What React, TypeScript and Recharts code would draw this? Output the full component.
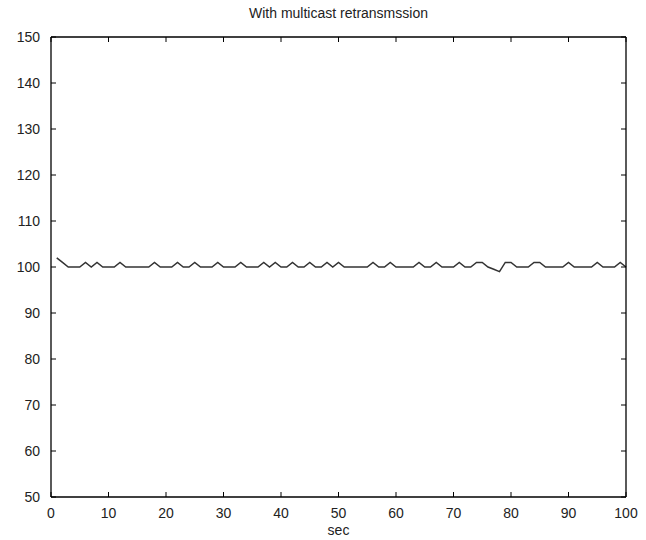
import { LineChart, Line, XAxis, YAxis } from "recharts"

// seconds 1..100
const seconds = [
  1, 2, 3, 4, 5, 6, 7, 8, 9, 10, 11, 12, 13, 14, 15, 16, 17, 18, 19, 20,
  21, 22, 23, 24, 25, 26, 27, 28, 29, 30, 31, 32, 33, 34, 35, 36, 37, 38, 39, 40,
  41, 42, 43, 44, 45, 46, 47, 48, 49, 50, 51, 52, 53, 54, 55, 56, 57, 58, 59, 60,
  61, 62, 63, 64, 65, 66, 67, 68, 69, 70, 71, 72, 73, 74, 75, 76, 77, 78, 79, 80,
  81, 82, 83, 84, 85, 86, 87, 88, 89, 90, 91, 92, 93, 94, 95, 96, 97, 98, 99, 100,
]

const values = [
  102, 101, 100, 100, 100, 101, 100, 101, 100, 100, 100, 101, 100, 100, 100, 100, 100, 101, 100, 100,
  100, 101, 100, 100, 101, 100, 100, 100, 101, 100, 100, 100, 101, 100, 100, 100, 101, 100, 101, 100,
  100, 101, 100, 100, 101, 100, 100, 101, 100, 101, 100, 100, 100, 100, 100, 101, 100, 100, 101, 100,
  100, 100, 100, 101, 100, 100, 101, 100, 100, 100, 101, 100, 100, 101, 101, 100, 99.5, 99, 101, 101,
  100, 100, 100, 101, 101, 100, 100, 100, 100, 101, 100, 100, 100, 100, 101, 100, 100, 100, 101, 100,
]

const xTicks = [0, 10, 20, 30, 40, 50, 60, 70, 80, 90, 100]
const yTicks = [50, 60, 70, 80, 90, 100, 110, 120, 130, 140, 150]

const data = seconds.map((t, i) => ({ t, v: values[i] }))

const font = { fontSize: 14, fill: "#222", fontFamily: "'Liberation Sans', Arial, sans-serif" }
const frame = { stroke: "#000", strokeWidth: 1.3 }
const noLabel = () => <g />

export default function App() {
  return (
    <div style={{ position: "absolute", left: 0, top: 0, width: 646, height: 540, background: "#fff" }}>
      <div
        style={{
          position: "absolute",
          left: 51,
          width: 575,
          top: 5,
          textAlign: "center",
          fontFamily: "'Liberation Sans', Arial, sans-serif",
          fontSize: 14,
          color: "#222",
        }}
      >
        With multicast retransmssion
      </div>
      <LineChart width={646} height={540} data={data} margin={{ top: 37, right: 20, bottom: 0, left: 0 }}>
        {/* labelled axes */}
        <XAxis
          dataKey="t"
          type="number"
          domain={[0, 100]}
          ticks={xTicks}
          tickLine={false}
          tickMargin={5}
          height={43}
          tick={font}
          axisLine={frame}
          label={{ value: "sec", position: "insideBottom", offset: 5, ...font }}
        />
        <YAxis
          type="number"
          domain={[50, 150]}
          ticks={yTicks}
          tickLine={false}
          tickMargin={5}
          width={51}
          tick={font}
          axisLine={frame}
        />
        {/* inward tick marks, matlab style box */}
        <XAxis
          xAxisId="bt"
          mirror
          dataKey="t"
          type="number"
          domain={[0, 100]}
          ticks={xTicks}
          tickSize={5}
          tick={noLabel}
          tickLine={{ stroke: "#000" }}
          axisLine={false}
        />
        <XAxis
          xAxisId="top"
          orientation="top"
          mirror
          dataKey="t"
          type="number"
          domain={[0, 100]}
          ticks={xTicks}
          tickSize={5}
          tick={noLabel}
          tickLine={{ stroke: "#000" }}
          axisLine={frame}
        />
        <YAxis
          yAxisId="lt"
          mirror
          type="number"
          domain={[50, 150]}
          ticks={yTicks}
          tickSize={5}
          tick={noLabel}
          tickLine={{ stroke: "#000" }}
          axisLine={false}
        />
        <YAxis
          yAxisId="right"
          orientation="right"
          mirror
          type="number"
          domain={[50, 150]}
          ticks={yTicks}
          tickSize={5}
          tick={noLabel}
          tickLine={{ stroke: "#000" }}
          axisLine={frame}
        />
        <Line xAxisId="bt" yAxisId="lt" dataKey="v" stroke="none" dot={false} isAnimationActive={false} />
        <Line xAxisId="top" yAxisId="right" dataKey="v" stroke="none" dot={false} isAnimationActive={false} />
        <Line
          dataKey="v"
          stroke="#333"
          strokeWidth={1.5}
          dot={false}
          type="linear"
          isAnimationActive={false}
        />
      </LineChart>
    </div>
  )
}
